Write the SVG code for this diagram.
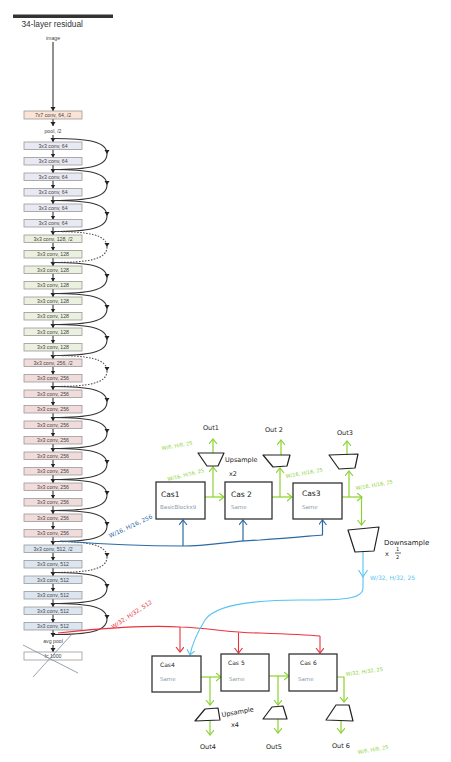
<svg xmlns="http://www.w3.org/2000/svg" xmlns:xlink="http://www.w3.org/1999/xlink" width="451" height="762" viewBox="0 0 451 762">
<style>
.bx{stroke:#9a9a9a;stroke-width:0.8}
.c64{fill:#e9e9f3}.c128{fill:#ebf1de}.c256{fill:#f2dcdb}.c512{fill:#dce6f1}
.lt{font-family:"Liberation Sans",Arial,sans-serif;font-size:5.2px;fill:#444;text-anchor:middle}
.ar{stroke:#222;stroke-width:1;fill:none;marker-end:url(#ah)}
.sk{stroke:#333;stroke-width:1.1;fill:none}
.skd{stroke:#555;stroke-width:1.1;fill:none;stroke-dasharray:1.6 1.4}
.hb{fill:#fff;stroke:#333;stroke-width:1.3}
.hw{font-family:"DejaVu Sans",sans-serif;fill:#222}
.sub{font-family:"DejaVu Sans",sans-serif;fill:#8a9aa6;font-size:5.5px}
.ga{stroke:#8ad22f;stroke-width:1.2;fill:none;marker-end:url(#gm)}
.gt{font-family:"DejaVu Sans",sans-serif;fill:#8ad22f;font-size:5px}
.tr{fill:none;stroke:#222;stroke-width:1.2;stroke-linejoin:round}
.db{stroke:#2a6aa6;stroke-width:1.2;fill:none}
.dba{stroke:#2a6aa6;stroke-width:1.2;fill:none;marker-end:url(#bm)}
.rd{stroke:#e8323c;stroke-width:1.1;fill:none}
.rda{stroke:#e8323c;stroke-width:1.1;fill:none;marker-end:url(#rm)}
.lb{stroke:#58c4f2;stroke-width:1.1;fill:none}
</style>
<defs>
<marker id="ah" markerUnits="userSpaceOnUse" markerWidth="6" markerHeight="6" refX="4" refY="2.5" orient="auto"><path d="M0,0 L4,2.5 L0,5 Z" fill="#222"/></marker>
<marker id="gm" markerUnits="userSpaceOnUse" markerWidth="10" markerHeight="10" refX="5" refY="4" orient="auto"><path d="M0,0 L5,4 L0,8" fill="none" stroke="#8ad22f" stroke-width="1.1"/></marker>
<marker id="bm" markerUnits="userSpaceOnUse" markerWidth="10" markerHeight="10" refX="5" refY="4" orient="auto"><path d="M0,0 L5,4 L0,8" fill="none" stroke="#2a6aa6" stroke-width="1.1"/></marker>
<marker id="rm" markerUnits="userSpaceOnUse" markerWidth="10" markerHeight="10" refX="5" refY="4" orient="auto"><path d="M0,0 L5,4 L0,8" fill="none" stroke="#e8323c" stroke-width="1.1"/></marker>
<marker id="lm" markerUnits="userSpaceOnUse" markerWidth="10" markerHeight="10" refX="5" refY="4" orient="auto"><path d="M0,0 L5,4 L0,8" fill="none" stroke="#58c4f2" stroke-width="1.1"/></marker>
<g id="skip"><path class="sk" d="M53,0 C88,0 107,3 107,15.5" marker-end="url(#ah)"/><path class="sk" d="M107,15.5 C107,28 88,31 53,31"/></g>
<g id="skipd"><path class="skd" d="M53,0 C88,0 107,3 107,15.5" marker-end="url(#ah)"/><path class="skd" d="M107,15.5 C107,28 88,31 53,31"/></g>
</defs>
<rect width="451" height="762" fill="#fff"/>

<rect x="13" y="14.5" width="100" height="3.5" fill="#333"/>
<text x="21.5" y="27" font-family="Liberation Sans,Arial,sans-serif" font-size="8.3" fill="#333">34-layer residual</text>
<text class="lt" x="53" y="40">image</text>

<g id="connectors-resnet">
<line class="ar" x1="53" y1="42" x2="53" y2="111"/>
<line class="ar" x1="53" y1="119" x2="53" y2="126"/>
<line class="ar" x1="53" y1="135" x2="53" y2="142"/>
<line class="ar" x1="53" y1="149.5" x2="53" y2="157.5"/>
<line class="ar" x1="53" y1="165" x2="53" y2="173"/>
<line class="ar" x1="53" y1="180.5" x2="53" y2="188.5"/>
<line class="ar" x1="53" y1="196" x2="53" y2="204"/>
<line class="ar" x1="53" y1="211.5" x2="53" y2="219.5"/>
<line class="ar" x1="53" y1="227" x2="53" y2="235"/>
<line class="ar" x1="53" y1="242.5" x2="53" y2="250.5"/>
<line class="ar" x1="53" y1="258" x2="53" y2="266"/>
<line class="ar" x1="53" y1="273.5" x2="53" y2="281.5"/>
<line class="ar" x1="53" y1="289" x2="53" y2="297"/>
<line class="ar" x1="53" y1="304.5" x2="53" y2="312.5"/>
<line class="ar" x1="53" y1="320" x2="53" y2="328"/>
<line class="ar" x1="53" y1="335.5" x2="53" y2="343.5"/>
<line class="ar" x1="53" y1="351" x2="53" y2="359"/>
<line class="ar" x1="53" y1="366.5" x2="53" y2="374.5"/>
<line class="ar" x1="53" y1="382" x2="53" y2="390"/>
<line class="ar" x1="53" y1="397.5" x2="53" y2="405.5"/>
<line class="ar" x1="53" y1="413" x2="53" y2="421"/>
<line class="ar" x1="53" y1="428.5" x2="53" y2="436.5"/>
<line class="ar" x1="53" y1="444" x2="53" y2="452"/>
<line class="ar" x1="53" y1="459.5" x2="53" y2="467.5"/>
<line class="ar" x1="53" y1="475" x2="53" y2="483"/>
<line class="ar" x1="53" y1="490.5" x2="53" y2="498.5"/>
<line class="ar" x1="53" y1="506" x2="53" y2="514"/>
<line class="ar" x1="53" y1="521.5" x2="53" y2="529.5"/>
<line class="ar" x1="53" y1="537" x2="53" y2="545"/>
<line class="ar" x1="53" y1="552.5" x2="53" y2="560.5"/>
<line class="ar" x1="53" y1="568" x2="53" y2="576"/>
<line class="ar" x1="53" y1="583.5" x2="53" y2="591.5"/>
<line class="ar" x1="53" y1="599" x2="53" y2="607"/>
<line class="ar" x1="53" y1="614.5" x2="53" y2="622.5"/>
<line class="ar" x1="53" y1="630" x2="53" y2="637"/>
<line class="ar" x1="53" y1="645" x2="53" y2="652"/>
<use xlink:href="#skip" transform="translate(0,138.5)"/>
<use xlink:href="#skip" transform="translate(0,169.5)"/>
<use xlink:href="#skip" transform="translate(0,200.5)"/>
<use xlink:href="#skipd" transform="translate(0,231.5)"/>
<use xlink:href="#skip" transform="translate(0,262.5)"/>
<use xlink:href="#skip" transform="translate(0,293.5)"/>
<use xlink:href="#skip" transform="translate(0,324.5)"/>
<use xlink:href="#skipd" transform="translate(0,355.5)"/>
<use xlink:href="#skip" transform="translate(0,386.5)"/>
<use xlink:href="#skip" transform="translate(0,417.5)"/>
<use xlink:href="#skip" transform="translate(0,448.5)"/>
<use xlink:href="#skip" transform="translate(0,479.5)"/>
<use xlink:href="#skip" transform="translate(0,510.5)"/>
<use xlink:href="#skipd" transform="translate(0,541.5)"/>
<use xlink:href="#skip" transform="translate(0,572.5)"/>
<use xlink:href="#skip" transform="translate(0,603.5)"/>
</g>

<g id="conv7"><rect class="bx" x="24" y="111" width="58" height="8" fill="#fbe4d5"/><text class="lt" x="53" y="116.8">7x7 conv, 64, /2</text></g>
<text class="lt" x="53" y="133">pool, /2</text>

<g id="conv-0"><rect class="bx c64" x="24" y="142" width="58" height="7.5"/><text class="lt" x="53" y="147.6">3x3 conv, 64</text></g>
<g id="conv-1"><rect class="bx c64" x="24" y="157.5" width="58" height="7.5"/><text class="lt" x="53" y="163.1">3x3 conv, 64</text></g>
<g id="conv-2"><rect class="bx c64" x="24" y="173" width="58" height="7.5"/><text class="lt" x="53" y="178.6">3x3 conv, 64</text></g>
<g id="conv-3"><rect class="bx c64" x="24" y="188.5" width="58" height="7.5"/><text class="lt" x="53" y="194.1">3x3 conv, 64</text></g>
<g id="conv-4"><rect class="bx c64" x="24" y="204" width="58" height="7.5"/><text class="lt" x="53" y="209.6">3x3 conv, 64</text></g>
<g id="conv-5"><rect class="bx c64" x="24" y="219.5" width="58" height="7.5"/><text class="lt" x="53" y="225.1">3x3 conv, 64</text></g>
<g id="conv-6"><rect class="bx c128" x="24" y="235" width="58" height="7.5"/><text class="lt" x="53" y="240.6">3x3 conv, 128, /2</text></g>
<g id="conv-7"><rect class="bx c128" x="24" y="250.5" width="58" height="7.5"/><text class="lt" x="53" y="256.1">3x3 conv, 128</text></g>
<g id="conv-8"><rect class="bx c128" x="24" y="266" width="58" height="7.5"/><text class="lt" x="53" y="271.6">3x3 conv, 128</text></g>
<g id="conv-9"><rect class="bx c128" x="24" y="281.5" width="58" height="7.5"/><text class="lt" x="53" y="287.1">3x3 conv, 128</text></g>
<g id="conv-10"><rect class="bx c128" x="24" y="297" width="58" height="7.5"/><text class="lt" x="53" y="302.6">3x3 conv, 128</text></g>
<g id="conv-11"><rect class="bx c128" x="24" y="312.5" width="58" height="7.5"/><text class="lt" x="53" y="318.1">3x3 conv, 128</text></g>
<g id="conv-12"><rect class="bx c128" x="24" y="328" width="58" height="7.5"/><text class="lt" x="53" y="333.6">3x3 conv, 128</text></g>
<g id="conv-13"><rect class="bx c128" x="24" y="343.5" width="58" height="7.5"/><text class="lt" x="53" y="349.1">3x3 conv, 128</text></g>
<g id="conv-14"><rect class="bx c256" x="24" y="359" width="58" height="7.5"/><text class="lt" x="53" y="364.6">3x3 conv, 256, /2</text></g>
<g id="conv-15"><rect class="bx c256" x="24" y="374.5" width="58" height="7.5"/><text class="lt" x="53" y="380.1">3x3 conv, 256</text></g>
<g id="conv-16"><rect class="bx c256" x="24" y="390" width="58" height="7.5"/><text class="lt" x="53" y="395.6">3x3 conv, 256</text></g>
<g id="conv-17"><rect class="bx c256" x="24" y="405.5" width="58" height="7.5"/><text class="lt" x="53" y="411.1">3x3 conv, 256</text></g>
<g id="conv-18"><rect class="bx c256" x="24" y="421" width="58" height="7.5"/><text class="lt" x="53" y="426.6">3x3 conv, 256</text></g>
<g id="conv-19"><rect class="bx c256" x="24" y="436.5" width="58" height="7.5"/><text class="lt" x="53" y="442.1">3x3 conv, 256</text></g>
<g id="conv-20"><rect class="bx c256" x="24" y="452" width="58" height="7.5"/><text class="lt" x="53" y="457.6">3x3 conv, 256</text></g>
<g id="conv-21"><rect class="bx c256" x="24" y="467.5" width="58" height="7.5"/><text class="lt" x="53" y="473.1">3x3 conv, 256</text></g>
<g id="conv-22"><rect class="bx c256" x="24" y="483" width="58" height="7.5"/><text class="lt" x="53" y="488.6">3x3 conv, 256</text></g>
<g id="conv-23"><rect class="bx c256" x="24" y="498.5" width="58" height="7.5"/><text class="lt" x="53" y="504.1">3x3 conv, 256</text></g>
<g id="conv-24"><rect class="bx c256" x="24" y="514" width="58" height="7.5"/><text class="lt" x="53" y="519.6">3x3 conv, 256</text></g>
<g id="conv-25"><rect class="bx c256" x="24" y="529.5" width="58" height="7.5"/><text class="lt" x="53" y="535.1">3x3 conv, 256</text></g>
<g id="conv-26"><rect class="bx c512" x="24" y="545" width="58" height="7.5"/><text class="lt" x="53" y="550.6">3x3 conv, 512, /2</text></g>
<g id="conv-27"><rect class="bx c512" x="24" y="560.5" width="58" height="7.5"/><text class="lt" x="53" y="566.1">3x3 conv, 512</text></g>
<g id="conv-28"><rect class="bx c512" x="24" y="576" width="58" height="7.5"/><text class="lt" x="53" y="581.6">3x3 conv, 512</text></g>
<g id="conv-29"><rect class="bx c512" x="24" y="591.5" width="58" height="7.5"/><text class="lt" x="53" y="597.1">3x3 conv, 512</text></g>
<g id="conv-30"><rect class="bx c512" x="24" y="607" width="58" height="7.5"/><text class="lt" x="53" y="612.6">3x3 conv, 512</text></g>
<g id="conv-31"><rect class="bx c512" x="24" y="622.5" width="58" height="7.5"/><text class="lt" x="53" y="628.1">3x3 conv, 512</text></g>
<text class="lt" x="53" y="643">avg pool</text>
<g id="fc"><rect class="bx" x="24" y="652" width="58" height="8" fill="#fff"/><text class="lt" x="53" y="657.8">fc 1000</text></g>
<g id="cross" stroke="#7d8c99" stroke-width="0.8"><line x1="23" y1="645" x2="78" y2="673"/><line x1="33" y1="677" x2="73" y2="633"/></g>

<g id="connectors-hand">
<path class="db" d="M60,541 C100,544 150,546 183,546 C210,546 230,541 260,540 C290,538 310,536 323,535"/>
<line class="dba" x1="183" y1="546" x2="183" y2="520"/>
<line class="dba" x1="243" y1="541" x2="243" y2="520"/>
<line class="dba" x1="322.5" y1="535" x2="322.5" y2="520"/>
<path class="rd" d="M58,633 C100,628 150,625 180,627 C210,628 230,633 260,633 C290,634 310,635 320,636"/>
<line class="rda" x1="180" y1="627" x2="180" y2="652"/>
<line class="rda" x1="238.5" y1="632.5" x2="238.5" y2="653"/>
<line class="rda" x1="320" y1="636" x2="320" y2="653"/>
<path class="lb" d="M363,552 L363,588 C363,600 340,600 300,600 C250,600 215,605 205,620 C197,633 192,645 190,655" marker-end="url(#lm)"/>
<path class="lb" d="M358.5,570 L363,577 L367.5,570"/>
<line class="ga" x1="205" y1="497" x2="224" y2="497"/>
<line class="ga" x1="213" y1="497" x2="213" y2="467"/>
<line class="ga" x1="213" y1="453" x2="213" y2="439"/>
<line class="ga" x1="272" y1="497" x2="292" y2="497"/>
<line class="ga" x1="280" y1="497" x2="280" y2="468"/>
<line class="ga" x1="281" y1="455" x2="281" y2="440"/>
<line class="ga" x1="342" y1="497" x2="362" y2="497"/>
<line class="ga" x1="361.5" y1="497" x2="361.5" y2="525"/>
<line class="ga" x1="349" y1="497" x2="349" y2="471"/>
<line class="ga" x1="347" y1="454" x2="347" y2="441"/>
<line class="ga" x1="201" y1="677" x2="221" y2="677"/>
<line class="ga" x1="210" y1="677" x2="210" y2="705"/>
<line class="ga" x1="210" y1="721" x2="210" y2="735"/>
<line class="ga" x1="269" y1="676" x2="289" y2="676"/>
<line class="ga" x1="278" y1="676" x2="278" y2="705"/>
<line class="ga" x1="278" y1="719" x2="278" y2="733"/>
<path class="ga" d="M337,677 L344,677 L344,702"/>
<line class="ga" x1="341" y1="721" x2="341" y2="733"/>
</g>

<text class="gt" transform="translate(162,450) rotate(-10)">W/8, H/8, 25</text>
<text class="gt" transform="translate(168,481) rotate(-14)">W/16, H/16, 25</text>
<text class="gt" transform="translate(286,478) rotate(-10)">W/16, H/16, 25</text>
<text class="gt" transform="translate(356,490) rotate(-10)">W/16, H/16, 25</text>
<text class="gt" transform="translate(346,676) rotate(-8)">W/32, H/32, 25</text>
<text class="gt" transform="translate(358,754) rotate(-10)">W/8, H/8, 25</text>
<text transform="translate(110,538) rotate(-25)" font-family="DejaVu Sans,sans-serif" font-size="5.8" fill="#2a6aa6">W/16, H/16, 256</text>
<text transform="translate(113,629) rotate(-33)" font-family="DejaVu Sans,sans-serif" font-size="5.8" fill="#e8323c">W/32, H/32, 512</text>
<text x="370" y="580" font-family="DejaVu Sans,sans-serif" font-size="6" fill="#58c4f2">W/32, H/32, 25</text>

<g id="cas1"><rect class="hb" x="156" y="482" width="49" height="37"/><text class="hw" x="161" y="497" font-size="7.5">Cas1</text><text class="sub" x="160" y="509">BasicBlockx9</text></g>
<g id="cas2"><rect class="hb" x="225" y="482" width="47" height="37"/><text class="hw" x="231" y="497" font-size="7.5">Cas 2</text><text class="sub" x="231" y="509">Same</text></g>
<g id="cas3"><rect class="hb" x="293" y="483" width="49" height="36"/><text class="hw" x="302" y="496" font-size="7.5">Cas3</text><text class="sub" x="302" y="509">Same</text></g>

<g id="up1"><path class="tr" d="M198,453 L224,453 L218,466 L207,466 Z"/><text class="hw" x="225" y="462" font-size="6.5">Upsample</text><text class="hw" x="229" y="476" font-size="6.5">x2</text></g>
<g id="up2"><path class="tr" d="M263,455 L290,455 L287,466 L273,467 Z"/></g>
<g id="up3"><path class="tr" d="M329,455 L358,454 L355,468 L339,469 Z"/></g>
<text id="out1" class="hw" x="203" y="430" font-size="6.5">Out1</text>
<text id="out2" class="hw" x="265" y="432" font-size="6.5">Out 2</text>
<text id="out3" class="hw" x="337" y="435" font-size="6.5">Out3</text>

<g id="down"><path class="tr" d="M348,530 L379,527 L374,551 L355,552 Z"/><text class="hw" x="384" y="545" font-size="7">Downsample</text><text class="hw" x="385" y="556" font-size="6.5">x</text><text class="hw" x="396" y="551" font-size="5">1</text><line x1="395" y1="553" x2="401" y2="553" stroke="#222" stroke-width="0.7"/><text class="hw" x="396" y="559" font-size="5">2</text></g>

<g id="cas4"><rect class="hb" x="152" y="656" width="49" height="36"/><text class="hw" x="160" y="667" font-size="6">Cas4</text><text class="sub" x="160" y="681">Same</text></g>
<g id="cas5"><rect class="hb" x="221" y="654" width="48" height="37"/><text class="hw" x="228" y="665" font-size="6">Cas 5</text><text class="sub" x="229" y="681">Same</text></g>
<g id="cas6"><rect class="hb" x="289" y="654" width="48" height="37"/><text class="hw" x="300" y="665" font-size="6">Cas 6</text><text class="sub" x="298" y="681" font-size="6.5">Same</text></g>

<g id="up4"><path class="tr" d="M205,709 L218,708 L220,720 L195,721 Z"/><text class="hw" transform="translate(222,717) rotate(-10)" font-size="6.5">Upsample</text><text class="hw" x="231" y="727" font-size="6.5">x4</text></g>
<g id="up5"><path class="tr" d="M272,707 L283,706 L287,719 L263,719 Z"/></g>
<g id="up6"><path class="tr" d="M336,705 L349,705 L353,721 L326,720 Z"/></g>
<text id="out4" class="hw" x="200" y="749" font-size="6.5">Out4</text>
<text id="out5" class="hw" x="266" y="749" font-size="6.5">Out5</text>
<text id="out6" class="hw" x="332" y="748" font-size="6.5">Out 6</text>
</svg>
